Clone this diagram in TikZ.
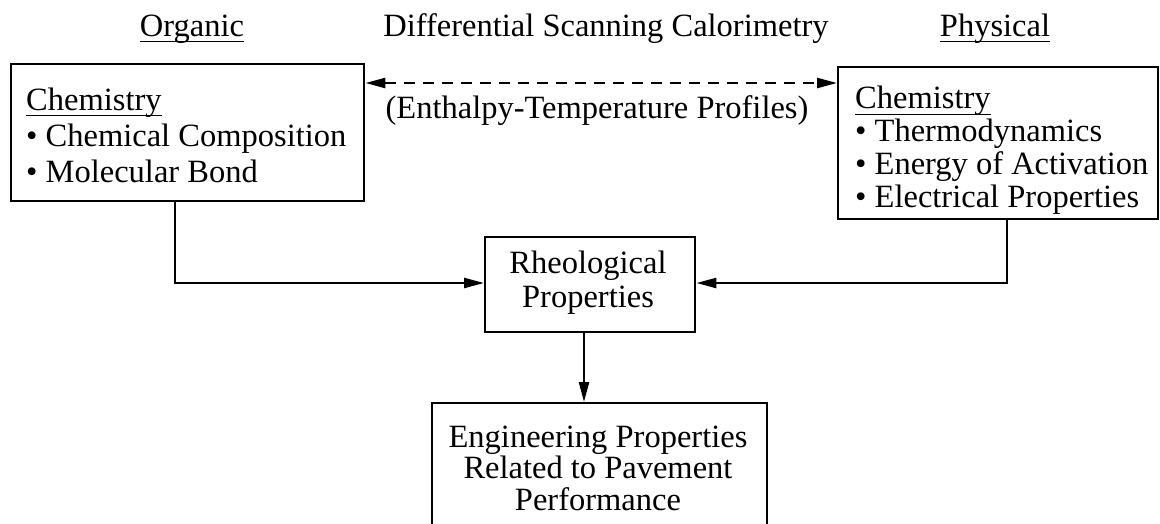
\documentclass[tikz,border=0pt]{standalone}
\usepackage{fontspec}
\setmainfont{Liberation Serif}
\usetikzlibrary{arrows.meta}
% underline drawn a fixed distance under the baseline
\newcommand{\myul}[1]{\setbox0\hbox{#1}\rlap{\rule[-6pt]{\wd0}{1.4pt}}\box0}
\begin{document}
\begin{tikzpicture}[x=1pt,y=-1pt,
  every node/.style={font=\fontsize{32.5}{31}\selectfont},
  box/.style={draw,line width=2.4pt,inner sep=0pt},
  tip/.tip={Triangle[length=20pt,width=10pt]},
  conn/.style={line width=2.4pt,-tip},
  title/.style={anchor=base}]
\useasboundingbox (0,0) rectangle (1160,523);
% headings
\node[title] (org) at (192,36) {\myul{Organic}};
\node[title] (dsc) at (606,36) {Differential Scanning Calorimetry};
\node[title] (phy) at (995,36) {\myul{Physical}};
% boxes (the base anchor of a multi-line text is the baseline of its last line)
\node[box,minimum width=353pt,minimum height=137pt,anchor=north west] (L) at (10,63) {};
\node[anchor=base west,align=left,inner sep=0pt,
  font=\fontsize{32.5}{36}\selectfont] (Lt) at (26,182)
  {\myul{Chemistry}\\ \textbullet\ Chemical Composition\\ \textbullet\ Molecular Bond};
\node[box,minimum width=320pt,minimum height=152pt,anchor=north west] (R) at (837,66) {};
\node[anchor=base west,align=left,inner sep=0pt,
  font=\fontsize{32.5}{32.7}\selectfont] (Rt) at (855,207)
  {\myul{Chemistry}\\ \textbullet\ Thermodynamics\\ \textbullet\ Energy of Activation\\ \textbullet\ Electrical Properties};
\node[box,minimum width=210pt,minimum height=95pt,anchor=north west] (Rh) at (484,236) {};
\node[anchor=base,align=center,inner sep=0pt,
  font=\fontsize{32.5}{33.5}\selectfont] (Rht) at (588,307)
  {Rheological\\Properties};
\node[box,minimum width=335pt,minimum height=135pt,anchor=north] (En) at (599.5,402) {};
\node[anchor=base,align=center,inner sep=0pt,
  font=\fontsize{32.5}{31.5}\selectfont] (Et) at (598,510)
  {Engineering Properties\\Related to Pavement\\Performance};
\node[anchor=base] (ent) at (597,118) {(Enthalpy-Temperature Profiles)};
% connectors
\coordinate (dl) at (580,83);
\coordinate (lj) at (175,283);
\coordinate (rj) at (1007,283);
\coordinate (dn) at (584,331);
\draw[line width=2.4pt,dash pattern=on 11pt off 8pt,tip-tip]
  (L.east |- dl) -- (R.west |- dl);
\draw[conn] (lj |- L.south) -- (lj) -- (Rh.west |- lj);
\draw[conn] (rj |- R.south) -- (rj) -- (Rh.east |- rj);
\draw[conn] (dn |- Rh.south) -- (dn |- En.north);
\end{tikzpicture}
\end{document}
